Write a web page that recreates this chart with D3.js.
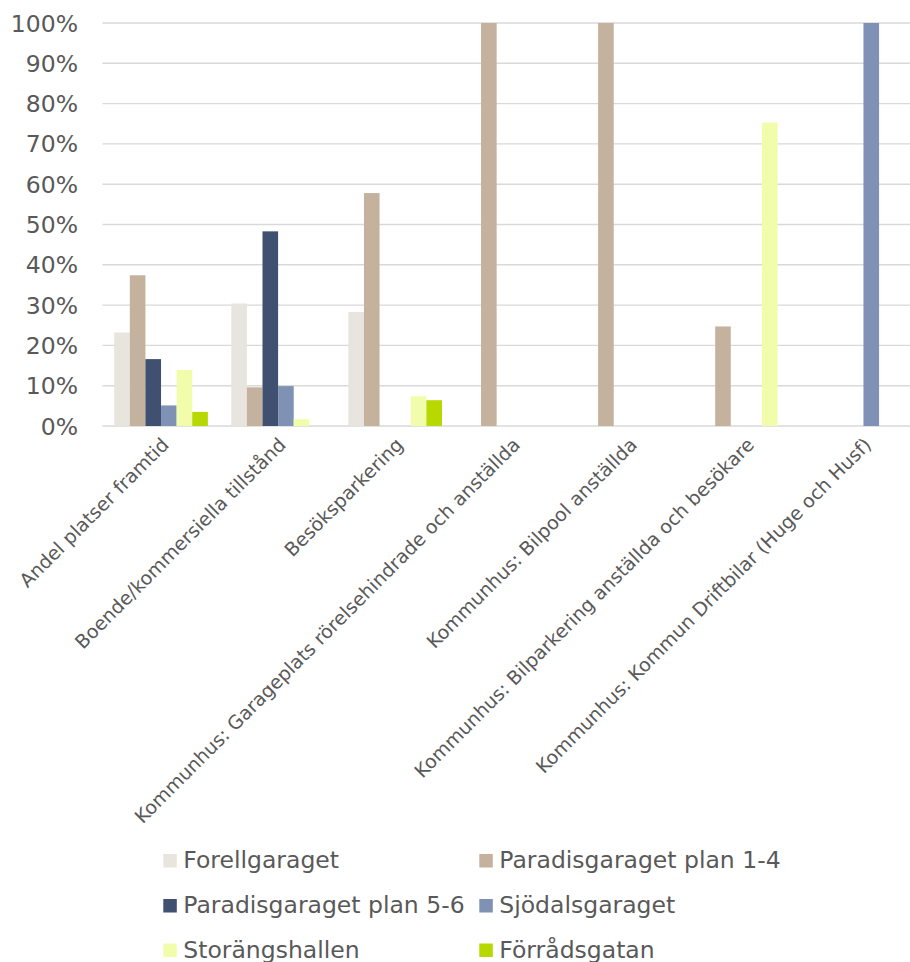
<!DOCTYPE html>
<html>
<head>
<meta charset="utf-8">
<script src="https://cdn.jsdelivr.net/npm/d3@7"></script>
<style>
  body { margin: 0; background: #fff; }
  text { font-family: "DejaVu Sans", Verdana, sans-serif; fill: #595959; }
</style>
</head>
<body>
<svg id="chart"></svg>
<script>
// categories on the x axis
var categories = [
    "Andel platser framtid",
    "Boende/kommersiella tillstånd",
    "Besöksparkering",
    "Kommunhus: Garageplats rörelsehindrade och anställda",
    "Kommunhus: Bilpool anställda",
    "Kommunhus: Bilparkering anställda och besökare",
    "Kommunhus: Kommun Driftbilar (Huge och Husf)"
];

// series names (legend order)
var seriesNames = ["Forellgaraget", "Paradisgaraget plan 1-4", "Paradisgaraget plan 5-6",
                   "Sjödalsgaraget", "Storängshallen", "Förrådsgatan"];

// values per series, one per category (share 0..1)
var forell    = [0.232, 0.304, 0.283, 0, 0, 0, 0];
var paradis14 = [0.374, 0.096, 0.578, 1, 1, 0.247, 0];
var paradis56 = [0.166, 0.483, 0, 0, 0, 0, 0];
var sjodal    = [0.051, 0.099, 0, 0, 0, 0, 1];
var storang   = [0.139, 0.017, 0.074, 0, 0, 0.753, 0];
var forrad    = [0.035, 0, 0.064, 0, 0, 0, 0];

var yTicks = [0, 0.1, 0.2, 0.3, 0.4, 0.5, 0.6, 0.7, 0.8, 0.9, 1];

var colors = ["#e8e5de", "#c5b29e", "#3f5070", "#7f91b4", "#f2fdac", "#b7d800"];

var allSeries = [forell, paradis14, paradis56, sjodal, storang, forrad];

var screen = {width: 910, height: 962};
var plot = {left: 102.5, right: 922, top: 23, bottom: 426};

var svg = d3.select("#chart")
    .attr("width", screen.width)
    .attr("height", screen.height);

var xScale = d3.scaleBand()
    .domain(categories)
    .range([plot.left, plot.right])
    .padding(0);

var xInner = d3.scaleBand()
    .domain(d3.range(seriesNames.length))
    .range([0, xScale.bandwidth()])
    .paddingInner(0)
    .paddingOuter(0.75);

var yScale = d3.scaleLinear()
    .domain([0, 1])
    .range([plot.bottom, plot.top]);

// gridlines
svg.append("g")
    .selectAll("line")
    .data(yTicks)
    .enter()
    .append("line")
    .attr("x1", plot.left)
    .attr("x2", screen.width)
    .attr("y1", function(d) { return yScale(d); })
    .attr("y2", function(d) { return yScale(d); })
    .attr("stroke", "#d9d9d9")
    .attr("stroke-width", 1.4);

// y axis labels
svg.append("g")
    .selectAll("text")
    .data(yTicks)
    .enter()
    .append("text")
    .attr("x", 78)
    .attr("y", function(d) { return yScale(d) + 8.5; })
    .attr("text-anchor", "end")
    .style("font-size", "23.5px")
    .text(d3.format(".0%"));

// bars
var rows = [];
categories.forEach(function(c, ci) {
    allSeries.forEach(function(s, si) {
        rows.push({cat: c, series: si, value: s[ci]});
    });
});

svg.append("g")
    .selectAll("rect")
    .data(rows.filter(function(d) { return d.value > 0; }))
    .enter()
    .append("rect")
    .attr("x", function(d) { return xScale(d.cat) + xInner(d.series); })
    .attr("width", xInner.bandwidth())
    .attr("y", function(d) { return yScale(d.value); })
    .attr("height", function(d) { return plot.bottom - yScale(d.value); })
    .attr("fill", function(d) { return colors[d.series]; });

// category labels, rotated
svg.append("g")
    .selectAll("text")
    .data(categories)
    .enter()
    .append("text")
    .attr("text-anchor", "end")
    .attr("transform", function(d) {
        var cx = xScale(d) + xScale.bandwidth() / 2;
        return "translate(" + (cx + 9) + "," + 446 + ") rotate(-45)";
    })
    .style("font-size", "19px")
    .text(function(d) { return d; });

// legend: two columns, three rows
var legendCols = [163.3, 479.3];
var legendRows = [861, 906, 950.5];

var legend = svg.append("g")
    .selectAll("g")
    .data(seriesNames)
    .enter()
    .append("g")
    .attr("transform", function(d, i) {
        return "translate(" + legendCols[i % 2] + "," + legendRows[Math.floor(i / 2)] + ")";
    });

legend.append("rect")
    .attr("x", 0)
    .attr("y", -7)
    .attr("width", 13.5)
    .attr("height", 13.5)
    .attr("fill", function(d, i) { return colors[i]; });

legend.append("text")
    .attr("x", 20)
    .attr("y", 7.3)
    .style("font-size", "23.5px")
    .text(function(d) { return d; });
</script>
</body>
</html>
